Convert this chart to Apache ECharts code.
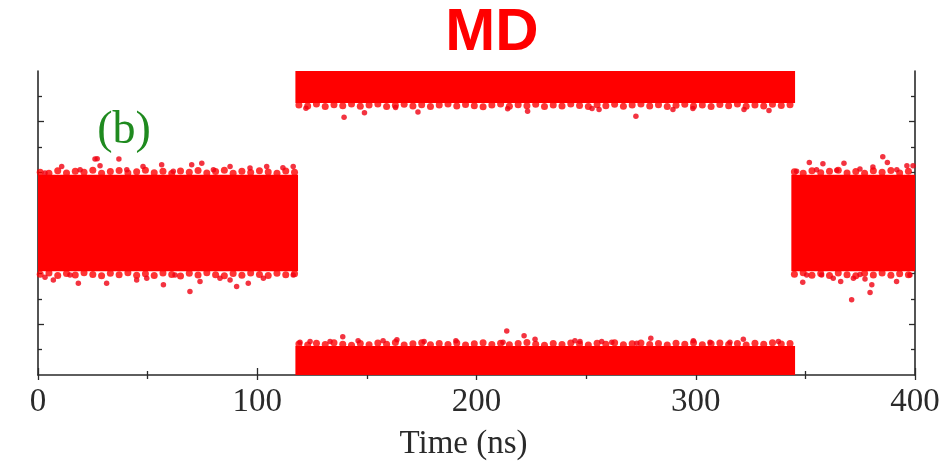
<!DOCTYPE html>
<html>
<head>
<meta charset="utf-8">
<script src="https://cdn.jsdelivr.net/npm/echarts@6/dist/echarts.min.js"></script>
<style>html,body{margin:0;padding:0;background:#fff}#c{width:945px;height:466px}</style>
</head>
<body>
<div id="c"></div>
<script>
// ---- data ----
const chartTitle = 'MD';
const panelLabel = '(b)';
const xAxisName = 'Time (ns)';
const xTickValues = [0, 100, 200, 300, 400];
// y axis has no labels; arbitrary units 0..12
const yMinorTicks = [1, 3, 4, 5, 7, 8, 9, 11];
const yMajorTicks = [2, 6, 10];

// dense bands: [tStart, tEnd, yLow, yHigh]
const bandLeft   = [0, 118.6, 4.10, 7.90];
const bandTop    = [117.4, 345.3, 10.74, 12];
const bandBottom = [117.4, 345.3, 0, 1.14];
const bandRight  = [343.6, 400, 4.10, 7.90];

// ragged edge of each dense band [t, y]
const leftUpperEdge = [[1,8.00],[5,7.96],[9,8.06],[13,7.97],[17,8.04],[21,8.00],[25,8.08],[29,7.96],[33,8.03],[37,8.07],[41,7.97],[45,8.02],[49,8.08],[53,7.98],[57,8.04],[61,7.95],[65,8.05],[69,8.00],[73,8.07],[77,7.97],[81,8.03],[85,8.08],[89,7.96],[93,8.04],[97,7.99],[101,8.06],[105,8.01],[109,7.96],[113,8.05],[117,8.00]];
const leftLowerEdge = [[1,3.98],[5,4.03],[9,3.93],[13,4.01],[17,3.95],[21,4.04],[25,3.97],[29,3.92],[33,4.02],[37,3.96],[41,4.04],[45,3.94],[49,4.00],[53,3.93],[57,4.03],[61,3.97],[65,3.91],[69,4.02],[73,3.95],[77,4.04],[81,3.96],[85,3.92],[89,4.01],[93,3.94],[97,4.03],[101,3.97],[105,3.93],[109,4.02],[113,3.96],[117,4.00]];
const topLowerEdge = [[119,10.66],[123,10.62],[127,10.70],[131,10.60],[135,10.67],[139,10.63],[143,10.70],[147,10.61],[151,10.66],[155,10.70],[159,10.60],[163,10.65],[167,10.69],[171,10.62],[175,10.67],[179,10.60],[183,10.66],[187,10.70],[191,10.62],[195,10.68],[199,10.63],[203,10.59],[207,10.66],[211,10.70],[215,10.61],[219,10.67],[223,10.63],[227,10.69],[231,10.60],[235,10.66],[239,10.62],[243,10.70],[247,10.64],[251,10.60],[255,10.67],[259,10.63],[263,10.69],[267,10.61],[271,10.66],[275,10.70],[279,10.62],[283,10.67],[287,10.60],[291,10.65],[295,10.69],[299,10.62],[303,10.66],[307,10.60],[311,10.68],[315,10.63],[319,10.70],[323,10.61],[327,10.66],[331,10.62],[335,10.69],[339,10.64],[343,10.67]];
const bottomUpperEdge = [[119,1.22],[123,1.18],[127,1.25],[131,1.20],[135,1.27],[139,1.21],[143,1.17],[147,1.24],[151,1.19],[155,1.26],[159,1.21],[163,1.28],[167,1.18],[171,1.23],[175,1.27],[179,1.19],[183,1.24],[187,1.20],[191,1.26],[195,1.18],[199,1.23],[203,1.27],[207,1.20],[211,1.25],[215,1.19],[219,1.24],[223,1.28],[227,1.21],[231,1.17],[235,1.24],[239,1.20],[243,1.26],[247,1.22],[251,1.18],[255,1.25],[259,1.21],[263,1.27],[267,1.19],[271,1.23],[275,1.26],[279,1.20],[283,1.24],[287,1.18],[291,1.25],[295,1.21],[299,1.27],[303,1.19],[307,1.23],[311,1.26],[315,1.20],[319,1.24],[323,1.18],[327,1.25],[331,1.21],[335,1.27],[339,1.22],[343,1.24]];
const rightUpperEdge = [[345,8.02],[349,7.96],[353,8.06],[357,7.98],[361,8.04],[365,8.08],[369,7.97],[373,8.03],[377,7.96],[381,8.06],[385,8.00],[389,8.07],[393,7.97],[397,8.04]];
const rightLowerEdge = [[345,3.98],[349,4.04],[353,3.94],[357,4.01],[361,3.93],[365,4.03],[369,3.96],[373,3.92],[377,4.02],[381,3.95],[385,4.03],[389,3.94],[393,4.00],[397,3.96]];

// isolated points outside the edges [t, y]
const leftUpperPts = [[26.0,8.53],[27.0,8.54],[36.9,8.53],[10.8,8.23],[3.2,7.97],[19.2,8.10],[28.3,8.26],[40.5,8.10],[47.9,8.23],[56.4,8.30],[61.7,8.04],[70.1,8.30],[74.7,8.36],[80.0,8.10],[87.6,8.23],[96.7,8.17],[104.3,8.23],[111.7,8.18],[116.4,8.23]];
const leftLowerPts = [[3.2,3.86],[7.0,3.75],[14.6,3.95],[18.4,3.62],[31.3,3.62],[45.0,3.75],[49.6,3.82],[57.2,3.56],[62.5,3.95],[69.3,3.30],[73.9,3.69],[83.0,3.82],[87.6,3.75],[90.6,3.49],[95.9,3.62],[102.8,3.82],[116.4,3.95]];
const topLowerPts = [[122.2,10.53],[139.6,10.17],[148.9,10.35],[163.1,10.56],[173.3,10.38],[214.2,10.51],[223.3,10.41],[252.7,10.52],[255.9,10.48],[272.7,10.21],[289.6,10.48],[298.7,10.52],[322.0,10.48],[333.4,10.44]];
const bottomUpperPts = [[119.5,1.29],[124.1,1.32],[133.2,1.32],[139.0,1.51],[146.0,1.35],[157.4,1.35],[163.7,1.39],[176.1,1.32],[190.6,1.35],[212.1,1.29],[213.8,1.74],[221.7,1.55],[226.7,1.41],[244.9,1.35],[247.2,1.32],[257.1,1.32],[261.7,1.29],[273.1,1.25],[279.5,1.45],[298.9,1.35],[306.5,1.29],[315.6,1.29],[321.7,1.41],[337.7,1.32]];
const rightUpperPts = [[346.0,8.04],[351.8,8.39],[355.1,8.10],[358.0,8.34],[364.3,8.08],[367.6,8.36],[374.9,8.13],[380.8,8.21],[385.3,8.62],[387.4,8.39],[391.7,8.10],[396.3,8.26],[399.1,8.26]];
const rightLowerPts = [[348.8,3.66],[350.6,3.95],[357.4,3.95],[362.7,3.82],[366.1,3.69],[371.1,2.97],[371.9,3.82],[374.9,3.97],[377.2,3.79],[379.5,3.26],[380.3,3.56],[391.6,3.69],[397.7,3.95]];

// ---- chart ----
const RED = '#ff0000';
const AX = '#2a2a2a';
const serif = "'Liberation Serif', 'DejaVu Serif', serif";
const chart = echarts.init(document.getElementById('c'), null, {renderer: 'canvas'});

const bands = [bandLeft, bandTop, bandBottom, bandRight];
const edges = [].concat(leftUpperEdge, leftLowerEdge, topLowerEdge, bottomUpperEdge, rightUpperEdge, rightLowerEdge);
const pts = [].concat(leftUpperPts, leftLowerPts, topLowerPts, bottomUpperPts, rightUpperPts, rightLowerPts);

function yAxisDef(pos, ticks, len, showLine) {
  return {
    type: 'value', min: 0, max: 12, interval: 1, position: pos,
    axisLine: {show: showLine, onZero: false, lineStyle: {color: AX, width: 1.6}},
    axisTick: {show: true, inside: true, length: len, customValues: ticks, lineStyle: {color: AX, width: 1.3}},
    axisLabel: {show: false},
    splitLine: {show: false}
  };
}

chart.setOption({
  animation: false,
  backgroundColor: '#fff',
  grid: {left: 38, right: 30, top: 71, bottom: 88, containLabel: false},
  graphic: [
    {type: 'text', x: 492, y: 33, style: {text: chartTitle, fill: RED, font: "bold 60px 'Liberation Sans', Arial, sans-serif", textAlign: 'center', textVerticalAlign: 'middle'}, z: 10},
    {type: 'text', x: 124, y: 131, style: {text: panelLabel, fill: '#1f8a1f', font: "46px " + serif, textAlign: 'center', textVerticalAlign: 'middle'}, z: 10}
  ],
  xAxis: [
    {
      type: 'value', min: 0, max: 400, interval: 100, position: 'bottom',
      name: xAxisName, nameLocation: 'middle', nameGap: 53,
      nameTextStyle: {fontFamily: serif, fontSize: 33, color: AX, padding: [0, 26, 0, 0]},
      axisLine: {show: true, onZero: false, lineStyle: {color: AX, width: 1.6}},
      axisTick: {show: true, inside: true, length: 7, lineStyle: {color: AX, width: 1.3}},
      minorTick: {show: true, splitNumber: 2, length: 4, lineStyle: {color: AX, width: 1.3}},
      axisLabel: {show: true, fontFamily: serif, fontSize: 33, color: AX, margin: 11,
        customValues: xTickValues},
      splitLine: {show: false}, minorSplitLine: {show: false}
    },
    {
      type: 'value', min: 0, max: 400, interval: 100, position: 'top',
      axisLine: {show: false},
      axisTick: {show: true, inside: true, length: 5, lineStyle: {color: AX, width: 1.3}},
      minorTick: {show: true, splitNumber: 2, length: 4, lineStyle: {color: AX, width: 1.3}},
      axisLabel: {show: false}, splitLine: {show: false}
    }
  ],
  yAxis: [
    yAxisDef('left', yMinorTicks, 4, true),
    yAxisDef('left', yMajorTicks, 6, false),
    yAxisDef('right', yMinorTicks, 4, true),
    yAxisDef('right', yMajorTicks, 6, false)
  ],
  series: [
    {
      type: 'custom', xAxisIndex: 0, yAxisIndex: 0, clip: true,
      data: bands,
      encode: {x: [0, 1], y: [2, 3]},
      renderItem: function (params, api) {
        const p0 = api.coord([api.value(0), api.value(3)]);
        const p1 = api.coord([api.value(1), api.value(2)]);
        return {type: 'rect', shape: {x: p0[0], y: p0[1], width: p1[0] - p0[0], height: p1[1] - p0[1]}, style: {fill: RED}};
      },
      z: 2
    },
    {
      type: 'scatter', xAxisIndex: 0, yAxisIndex: 0,
      data: edges, symbol: 'circle', symbolSize: 7,
      itemStyle: {color: RED}, z: 3
    },
    {
      type: 'scatter', xAxisIndex: 0, yAxisIndex: 0,
      data: pts, symbol: 'circle', symbolSize: 5.5,
      itemStyle: {color: '#f00010'}, z: 3
    }
  ]
});
</script>
</body>
</html>
